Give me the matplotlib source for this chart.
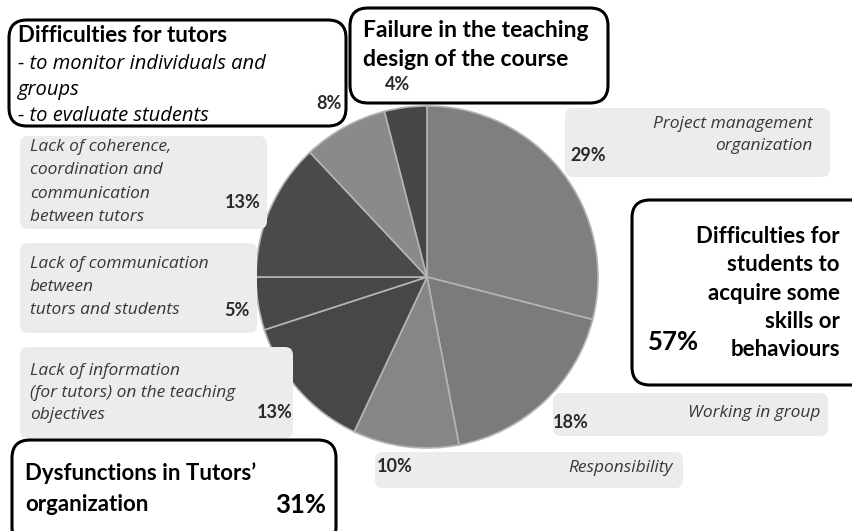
import numpy as np
import matplotlib.pyplot as plt
from matplotlib.patches import FancyBboxPatch

# =============================================================================
# Data (clockwise from 12 o'clock)

categories = [
    "Project management\norganization",
    "Working in group",
    "Responsibility",
    "Lack of information\n(for tutors) on the teaching\nobjectives",
    "Lack of communication\nbetween\ntutors and students",
    "Lack of coherence,\ncoordination and\ncommunication\nbetween tutors",
    "Difficulties for tutors",
    "Failure in the teaching design of the course",
]
shares = [29, 18, 10, 13, 5, 13, 8, 4]
slice_colors = ["#7f7f7f", "#7b7b7b", "#868686", "#474747",
                "#484848", "#4a4a4a", "#8a8a8a", "#464646"]

students_total = sum(shares[0:3])  # 57
tutors_org_total = sum(shares[3:6])  # 31

W, H = 853, 531


def Y(y):
    "pixel row (from top) to data y"
    return H - y


fg = plt.figure(figsize=(W / 100, H / 100), dpi=100)
ax = fg.add_axes([0, 0, 1, 1])

ax.pie(
    shares,
    center=(427, Y(277)),
    radius=171,
    startangle=90,
    counterclock=False,
    colors=slice_colors,
    wedgeprops=dict(edgecolor="#b4b4b4", linewidth=1.2),
)
ax.set_xlim(0, W)
ax.set_ylim(0, H)
ax.axis("off")

BOLD = dict(family="Lato", fontweight="bold", color="black")
ITAL = dict(family="Open Sans", style="italic", color="#383838", fontsize=12.5)
PCT = dict(family="Lato", fontweight="bold", color="#2a2a2a", fontsize=13)


def grey_box(x0, y0, x1, y1):
    ax.add_patch(FancyBboxPatch(
        (x0, Y(y1)), x1 - x0, y1 - y0,
        boxstyle="round,pad=0,rounding_size=8",
        fc="#ececec", ec="none", zorder=1))


def black_box(x0, y0, x1, y1):
    ax.add_patch(FancyBboxPatch(
        (x0, Y(y1)), x1 - x0, y1 - y0,
        boxstyle="round,pad=0,rounding_size=18",
        fc="white", ec="black", lw=2.2, zorder=3))


# -----------------------------------------------------------------------------
# Grey label boxes

grey_box(565, 108, 830, 177)
ax.text(813, Y(135), categories[0], ha="right", va="center",
        linespacing=1.55, zorder=2, **ITAL)
ax.text(570, Y(155), f"{shares[0]}%", ha="left", va="center", zorder=2, **PCT)

grey_box(553, 393, 828, 436)
ax.text(820, Y(413), categories[1], ha="right", va="center", zorder=2, **ITAL)
ax.text(553, Y(423), f"{shares[1]}%", ha="left", va="center", zorder=2, **PCT)

grey_box(375, 452, 683, 488)
ax.text(673, Y(468), categories[2], ha="right", va="center", zorder=2, **ITAL)
ax.text(377, Y(466), f"{shares[2]}%", ha="left", va="center", zorder=2, **PCT)

grey_box(20, 347, 293, 438)
ax.text(30, Y(393), categories[3], ha="left", va="center",
        linespacing=1.52, zorder=2, **ITAL)
ax.text(275, Y(412), f"{shares[3]}%", ha="center", va="center", zorder=2, **PCT)

grey_box(20, 243, 257, 333)
ax.text(30, Y(287), categories[4], ha="left", va="center",
        linespacing=1.58, zorder=2, **ITAL)
ax.text(237, Y(310), f"{shares[4]}%", ha="center", va="center", zorder=2, **PCT)

grey_box(20, 136, 267, 229)
ax.text(30, Y(182), categories[5], ha="left", va="center",
        linespacing=1.6, zorder=2, **ITAL)
ax.text(243, Y(202), f"{shares[5]}%", ha="center", va="center", zorder=2, **PCT)

# -----------------------------------------------------------------------------
# Black group boxes

black_box(9, 20, 346, 126)
ax.text(18, Y(35), categories[6], ha="left", va="center", fontsize=16,
        zorder=4, **BOLD)
ax.text(18, Y(90), "- to monitor individuals and\ngroups\n- to evaluate students",
        ha="left", va="center", linespacing=1.38, zorder=4,
        **dict(ITAL, color="black", fontsize=14.5))
ax.text(329, Y(103), f"{shares[6]}%", ha="center", va="center", zorder=4, **PCT)

black_box(350, 8, 608, 103)
ax.text(363, Y(45), "Failure in the teaching\ndesign of the course", ha="left",
        va="center", fontsize=16.5, linespacing=1.44, zorder=4, **BOLD)
ax.text(398, Y(84), f"{shares[7]}%", ha="center", va="center", zorder=4, **PCT)

black_box(632, 200, 875, 385)
ax.text(840, Y(293), "Difficulties for\nstudents to\nacquire some\nskills or\nbehaviours",
        ha="right", va="center", fontsize=16, linespacing=1.44, zorder=4, **BOLD)
ax.text(648, Y(342), f"{students_total}%", ha="left", va="center", zorder=4,
        **dict(BOLD, fontsize=18.5))

black_box(12, 440, 336, 545)
ax.text(25, Y(489), "Dysfunctions in Tutors\u2019\norganization", ha="left",
        va="center", fontsize=16, linespacing=1.6, zorder=4, **BOLD)
ax.text(326, Y(505), f"{tutors_org_total}%", ha="right", va="center", zorder=4,
        **dict(BOLD, fontsize=18.5))

fg.savefig("out.png", dpi=100)
